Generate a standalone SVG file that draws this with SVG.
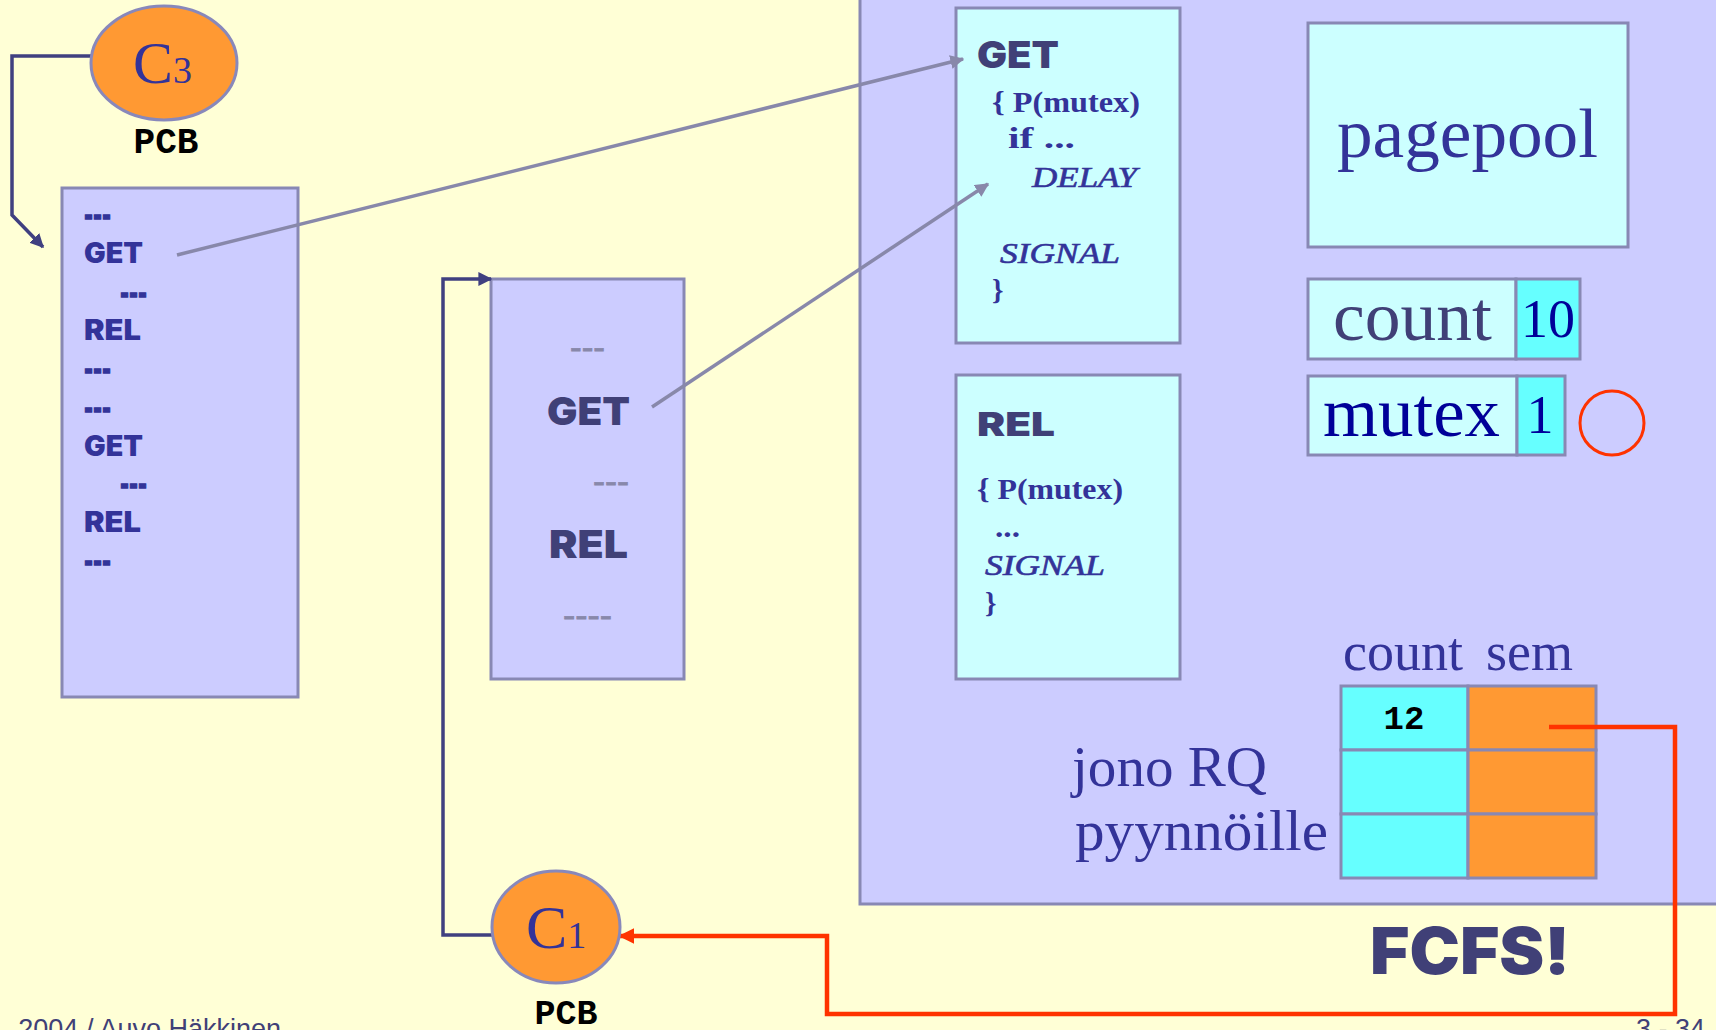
<svg xmlns="http://www.w3.org/2000/svg" width="1716" height="1030" viewBox="0 0 1716 1030">
<defs>
<style>
.blk{font-family:"Inter","Roboto","Lato","Liberation Sans",sans-serif;font-weight:900}
.ser{font-family:"Liberation Serif","DejaVu Serif",serif}
.mono{font-family:"Liberation Mono","DejaVu Sans Mono",monospace;font-weight:bold}
.sans{font-family:"Liberation Sans",Arial,sans-serif}
.box{stroke:#8888b4;stroke-width:3}
.code{fill:#333399}
.slate{fill:#404077}
.it{font-style:italic;stroke:#333399;stroke-width:0.6}
.dash{stroke:#333399;stroke-width:1.5}
</style>
<marker id="ad" viewBox="0 0 10 10" refX="9" refY="5" markerWidth="4" markerHeight="4" orient="auto" markerUnits="strokeWidth"><path d="M0,0 L10,5 L0,10 z" fill="#404080"/></marker>
<marker id="ag" viewBox="0 0 10 10" refX="9" refY="5" markerWidth="4" markerHeight="4" orient="auto" markerUnits="strokeWidth"><path d="M0,0 L10,5 L0,10 z" fill="#8888aa"/></marker>
<marker id="ar" viewBox="0 0 10 10" refX="9" refY="5" markerWidth="3.5" markerHeight="3.5" orient="auto" markerUnits="strokeWidth"><path d="M0,0 L10,5 L0,10 z" fill="#ff3300"/></marker>
</defs>
<rect x="0" y="0" width="1716" height="1030" fill="#ffffd6"/>

<g id="monitor">
<rect x="860" y="-5" width="870" height="909" fill="#ccccff" class="box"/>
</g>

<g id="get-proc">
<rect x="956" y="8" width="224" height="335" fill="#ccffff" class="box"/>
<text x="977" y="68" class="blk slate" font-size="37" textLength="82" lengthAdjust="spacingAndGlyphs">GET</text>
<g class="ser code" font-size="29">
<text x="992" y="112" font-weight="bold" textLength="148" lengthAdjust="spacingAndGlyphs">{ P(mutex)</text>
<text x="1008" y="148" font-weight="bold" textLength="67" lengthAdjust="spacingAndGlyphs">if  ...</text>
<text x="1032" y="187" class="it" textLength="105" lengthAdjust="spacingAndGlyphs">DELAY</text>
<text x="1000" y="263" class="it" textLength="120" lengthAdjust="spacingAndGlyphs">SIGNAL</text>
<text x="992" y="300" font-weight="bold">}</text>
</g>
</g>

<g id="rel-proc">
<rect x="956" y="375" width="224" height="304" fill="#ccffff" class="box"/>
<text x="977" y="436" class="blk slate" font-size="33" textLength="78" lengthAdjust="spacingAndGlyphs">REL</text>
<g class="ser code" font-size="29">
<text x="977" y="499" font-weight="bold" textLength="146" lengthAdjust="spacingAndGlyphs">{ P(mutex)</text>
<text x="995" y="537" font-weight="bold" textLength="25" lengthAdjust="spacingAndGlyphs">...</text>
<text x="985" y="575" class="it" textLength="120" lengthAdjust="spacingAndGlyphs">SIGNAL</text>
<text x="985" y="613" font-weight="bold">}</text>
</g>
</g>

<g id="pagepool">
<rect x="1308" y="23" width="320" height="224" fill="#ccffff" class="box"/>
<text x="1337" y="157" class="ser code" font-size="70" textLength="261" lengthAdjust="spacingAndGlyphs">pagepool</text>
</g>

<g id="count">
<rect x="1308" y="279" width="208" height="80" fill="#ccffff" class="box"/>
<rect x="1516" y="279" width="64" height="80" fill="#66ffff" class="box"/>
<text x="1333" y="340" class="ser slate" font-size="70" textLength="159" lengthAdjust="spacingAndGlyphs">count</text>
<text x="1548" y="337" class="ser" fill="#000099" font-size="54" text-anchor="middle">10</text>
</g>

<g id="mutex">
<rect x="1308" y="376" width="209" height="79" fill="#ccffff" class="box"/>
<rect x="1517" y="376" width="48" height="79" fill="#66ffff" class="box"/>
<text x="1323" y="436" class="ser" fill="#000099" font-size="70" textLength="177" lengthAdjust="spacingAndGlyphs">mutex</text>
<text x="1540" y="433" class="ser" fill="#000099" font-size="54" text-anchor="middle">1</text>
<circle cx="1612" cy="423" r="32" fill="none" stroke="#ff3300" stroke-width="3"/>
</g>

<g id="queue">
<text x="1343" y="670" class="ser code" font-size="54" textLength="120" lengthAdjust="spacingAndGlyphs">count</text>
<text x="1486" y="670" class="ser code" font-size="54" textLength="87" lengthAdjust="spacingAndGlyphs">sem</text>
<rect x="1341" y="686" width="127" height="64" fill="#66ffff" class="box"/>
<rect x="1468" y="686" width="128" height="64" fill="#ff9933" class="box"/>
<rect x="1341" y="750" width="127" height="64" fill="#66ffff" class="box"/>
<rect x="1468" y="750" width="128" height="64" fill="#ff9933" class="box"/>
<rect x="1341" y="814" width="127" height="64" fill="#66ffff" class="box"/>
<rect x="1468" y="814" width="128" height="64" fill="#ff9933" class="box"/>
<text x="1404" y="729" class="mono" fill="#000000" font-size="34" text-anchor="middle">12</text>
<text x="1072" y="786" class="ser code" font-size="56" textLength="195" lengthAdjust="spacingAndGlyphs">jono RQ</text>
<text x="1075" y="850" class="ser code" font-size="56" textLength="253" lengthAdjust="spacingAndGlyphs">pyynnöille</text>
</g>

<g id="fcfs">
<text x="1370" y="974" class="blk slate" font-size="64" textLength="200" lengthAdjust="spacingAndGlyphs">FCFS!</text>
</g>

<g id="code-c3">
<rect x="62" y="188" width="236" height="509" fill="#ccccff" class="box"/>
<g class="blk code" font-size="28">
<text x="84" y="225" class="dash" textLength="27" lengthAdjust="spacingAndGlyphs">---</text>
<text x="84" y="263" textLength="59" lengthAdjust="spacingAndGlyphs">GET</text>
<text x="120" y="303" class="dash" textLength="27" lengthAdjust="spacingAndGlyphs">---</text>
<text x="84" y="340" textLength="57" lengthAdjust="spacingAndGlyphs">REL</text>
<text x="84" y="379" class="dash" textLength="27" lengthAdjust="spacingAndGlyphs">---</text>
<text x="84" y="418" class="dash" textLength="27" lengthAdjust="spacingAndGlyphs">---</text>
<text x="84" y="456" textLength="59" lengthAdjust="spacingAndGlyphs">GET</text>
<text x="120" y="494" class="dash" textLength="27" lengthAdjust="spacingAndGlyphs">---</text>
<text x="84" y="532" textLength="57" lengthAdjust="spacingAndGlyphs">REL</text>
<text x="84" y="571" class="dash" textLength="27" lengthAdjust="spacingAndGlyphs">---</text>
</g>
</g>

<g id="code-c1">
<rect x="491" y="279" width="193" height="400" fill="#ccccff" class="box"/>
<g class="sans" fill="#8888aa" stroke="#8888aa" stroke-width="0.8" font-size="34">
<text x="570" y="359" textLength="35" lengthAdjust="spacingAndGlyphs">---</text>
<text x="593" y="493" textLength="36" lengthAdjust="spacingAndGlyphs">---</text>
<text x="563" y="627" textLength="49" lengthAdjust="spacingAndGlyphs">----</text>
</g>
<text x="547" y="425" class="blk slate" font-size="39" textLength="83" lengthAdjust="spacingAndGlyphs">GET</text>
<text x="549" y="558" class="blk slate" font-size="39" textLength="79" lengthAdjust="spacingAndGlyphs">REL</text>
</g>

<g id="connectors" fill="none">
<polyline points="91,56 12,56 12,215 43,247" stroke="#404080" stroke-width="3.5" marker-end="url(#ad)"/>
<polyline points="493,935 443,935 443,279 491,279" stroke="#404080" stroke-width="3.5" marker-end="url(#ad)"/>
<line x1="177" y1="255" x2="963" y2="59" stroke="#8888aa" stroke-width="3.5" marker-end="url(#ag)"/>
<line x1="652" y1="407" x2="988" y2="184" stroke="#8888aa" stroke-width="3.5" marker-end="url(#ag)"/>
<polyline points="1549,727 1675,727 1675,1014 827,1014 827,936 620,936" stroke="#ff3300" stroke-width="4.5" marker-end="url(#ar)"/>
</g>

<g id="c3">
<ellipse cx="164" cy="63" rx="73" ry="57" fill="#ff9933" stroke="#8888bb" stroke-width="3"/>
<text x="133" y="83" class="ser code" font-size="60">C<tspan font-size="38">3</tspan></text>
<text x="166" y="153" class="mono" fill="#000000" font-size="36" text-anchor="middle">PCB</text>
</g>

<g id="c1">
<ellipse cx="556" cy="927" rx="64" ry="56" fill="#ff9933" stroke="#8888bb" stroke-width="3"/>
<text x="526" y="948" class="ser code" font-size="62">C<tspan font-size="38">1</tspan></text>
<text x="566" y="1024" class="mono" fill="#000000" font-size="35" text-anchor="middle">PCB</text>
</g>

<g id="footer" class="sans" fill="#404077" font-size="27">
<text x="281" y="1038" text-anchor="end">2004 / Auvo Häkkinen</text>
<text x="1705" y="1038" text-anchor="end">3 - 34</text>
</g>
</svg>
